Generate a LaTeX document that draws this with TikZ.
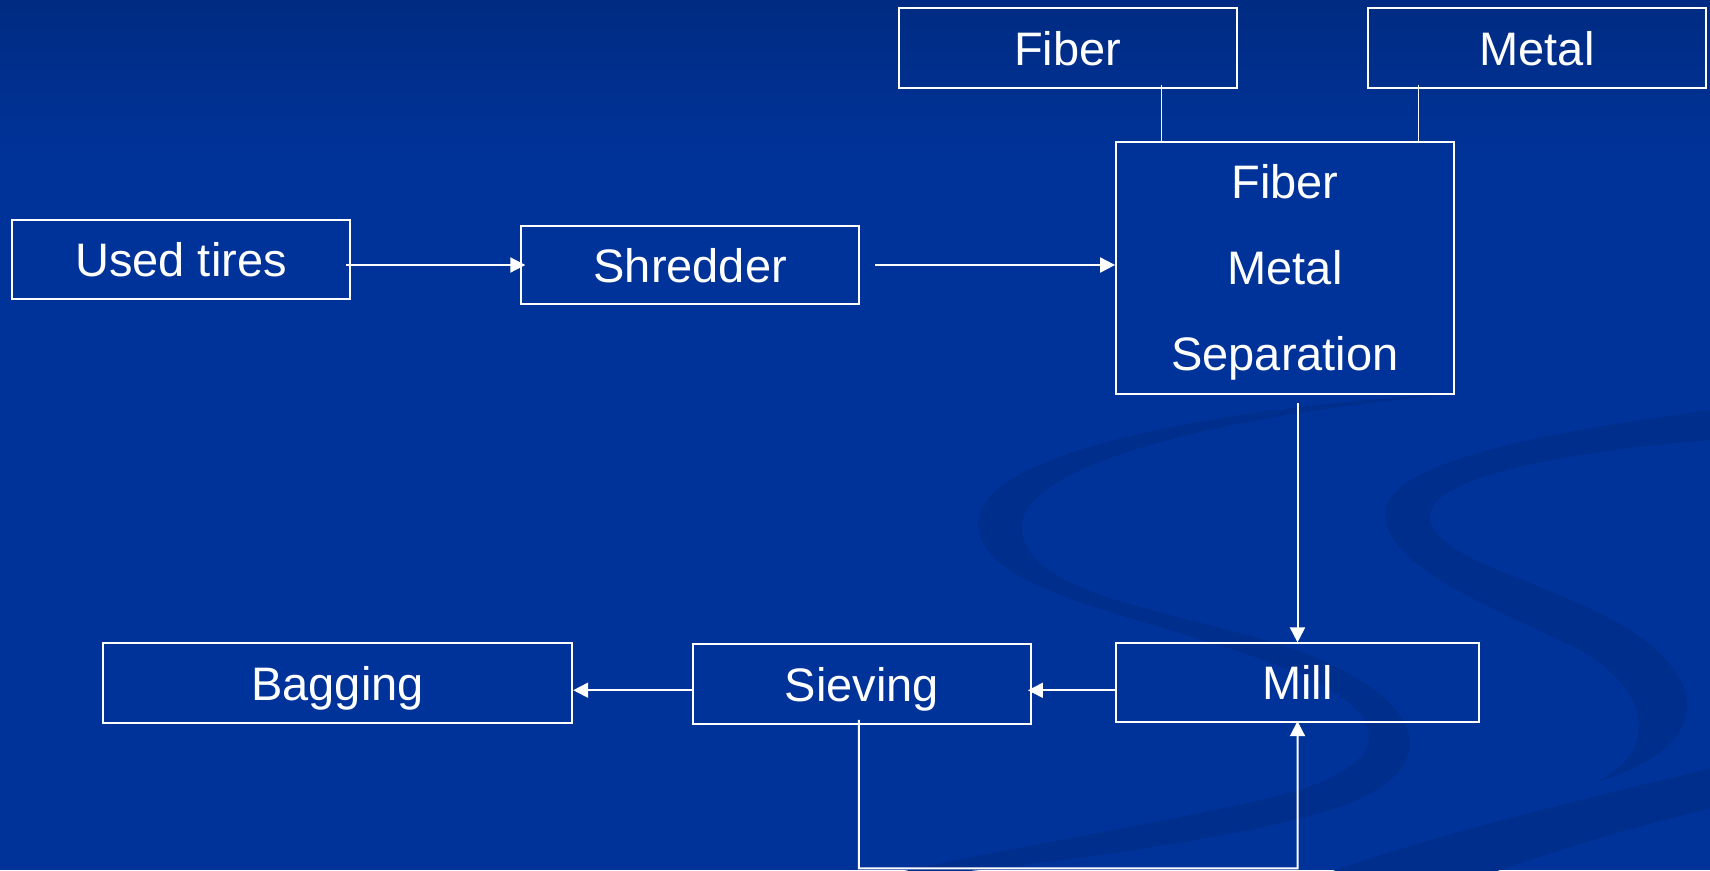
\documentclass[tikz,border=0pt]{standalone}
\usepackage{fontspec}
\setmainfont{Liberation Sans}
\usetikzlibrary{arrows.meta,calc}
\definecolor{bg}{RGB}{0,51,153}
\definecolor{bgtop}{RGB}{0,43,130}
\definecolor{swoosh}{RGB}{0,46,140}
\tikzset{
  box/.style={draw=white, line width=1.8pt, inner sep=0pt, text=white,
    text height=34pt, text depth=0pt,
    font=\fontsize{47}{56}\selectfont},
  label/.style={inner sep=0pt, text=white, text height=34pt, text depth=0pt,
    font=\fontsize{47}{56}\selectfont},
  arr/.style={draw=white, line width=2pt, -{Triangle[length=15pt,width=15pt]}},
  conn/.style={draw=white, line width=1.3pt},
  sw/.style={fill=swoosh, draw=none}
}
\begin{document}
\begin{tikzpicture}[x=1pt,y=-1pt]
\useasboundingbox (0,0) rectangle (1710,870);
% background
\fill[bg] (0,0) rectangle (1710,870);
\fill[top color=bgtop, bottom color=bg, draw=none] (0,0) rectangle (1710,160);
% decorative swooshes
\fill[sw] (1470,393) .. controls (1230,405) and (975,450) .. (978,525)
  .. controls (982,595) and (1150,615) .. (1290,670)
  .. controls (1400,715) and (1400,770) .. (1260,800)
  .. controls (1150,825) and (1000,850) .. (900,872)
  -- (960,872) .. controls (1080,860) and (1250,835) .. (1330,810)
  .. controls (1440,775) and (1440,710) .. (1310,655)
  .. controls (1190,610) and (1020,600) .. (1022,525)
  .. controls (1025,460) and (1250,410) .. (1470,393) -- cycle;
\fill[sw] (1712,410) .. controls (1560,430) and (1383,460) .. (1385,515)
  .. controls (1388,570) and (1500,610) .. (1580,650)
  .. controls (1650,690) and (1660,750) .. (1597,782)
  .. controls (1700,750) and (1720,690) .. (1630,630)
  .. controls (1550,580) and (1428,560) .. (1430,515)
  .. controls (1432,475) and (1580,450) .. (1712,440) -- cycle;
\fill[sw] (1330,872) .. controls (1450,830) and (1600,795) .. (1712,768)
  -- (1712,808) .. controls (1620,830) and (1560,850) .. (1494,872) -- cycle;
% boxes
\node[box, minimum width=338pt, minimum height=79pt] (ut) at (181,259.5) {Used tires};
\node[box, minimum width=338pt, minimum height=78.5pt] (sh) at (690.2,265) {Shredder};
\node[box, minimum width=338.4pt, minimum height=79.4pt] (fib) at (1067.8,48) {Fiber};
\node[box, minimum width=338pt, minimum height=79.4pt] (met) at (1537,48) {Metal};
\node[box, minimum width=338pt, minimum height=252pt] (sep) at (1285,268) {};
\node[label] (sepa) at (1285,181.3) {Fiber};
\node[label] (sepb) at (1285,267.8) {Metal};
\node[label] (sepc) at (1285,353.7) {Separation};
\node[box, minimum width=363.5pt, minimum height=79pt] (mill) at (1297.5,682.8) {Mill};
\node[box, minimum width=338.3pt, minimum height=79.7pt] (siev) at (861.9,684.2) {Sieving};
\node[box, minimum width=469.6pt, minimum height=79.7pt] (bag) at (337.5,683.2) {Bagging};
% connectors
\draw[arr] ([xshift=-5pt]ut.east |- sh.west) -- ([xshift=5pt]sh.west);
\draw[arr] ([xshift=15pt]sh.east) -- (sep.west |- sh.east);
\draw[conn] ([xshift=94pt,yshift=4pt]fib.south) -- ([xshift=94pt,yshift=-2pt]fib.south |- sep.north);
\draw[conn] ([xshift=-118.6pt,yshift=4pt]met.south) -- ([xshift=-118.6pt,yshift=-2pt]met.south |- sep.north);
\draw[arr] ([yshift=-8pt]sep.south -| mill.north) -- (mill.north);
\draw[arr] ([yshift=-7.5pt]mill.west) -- ([xshift=-4pt,yshift=-7.5pt]mill.west -| siev.east);
\draw[arr] ([yshift=-6pt]siev.west) -- ([yshift=-6pt]siev.west -| bag.east);
\coordinate (lb) at (858.8,868.3);
\draw[arr] ([xshift=-3pt,yshift=5pt]siev.south) -- (lb) -| ([yshift=2pt]mill.south);
\end{tikzpicture}
\end{document}
